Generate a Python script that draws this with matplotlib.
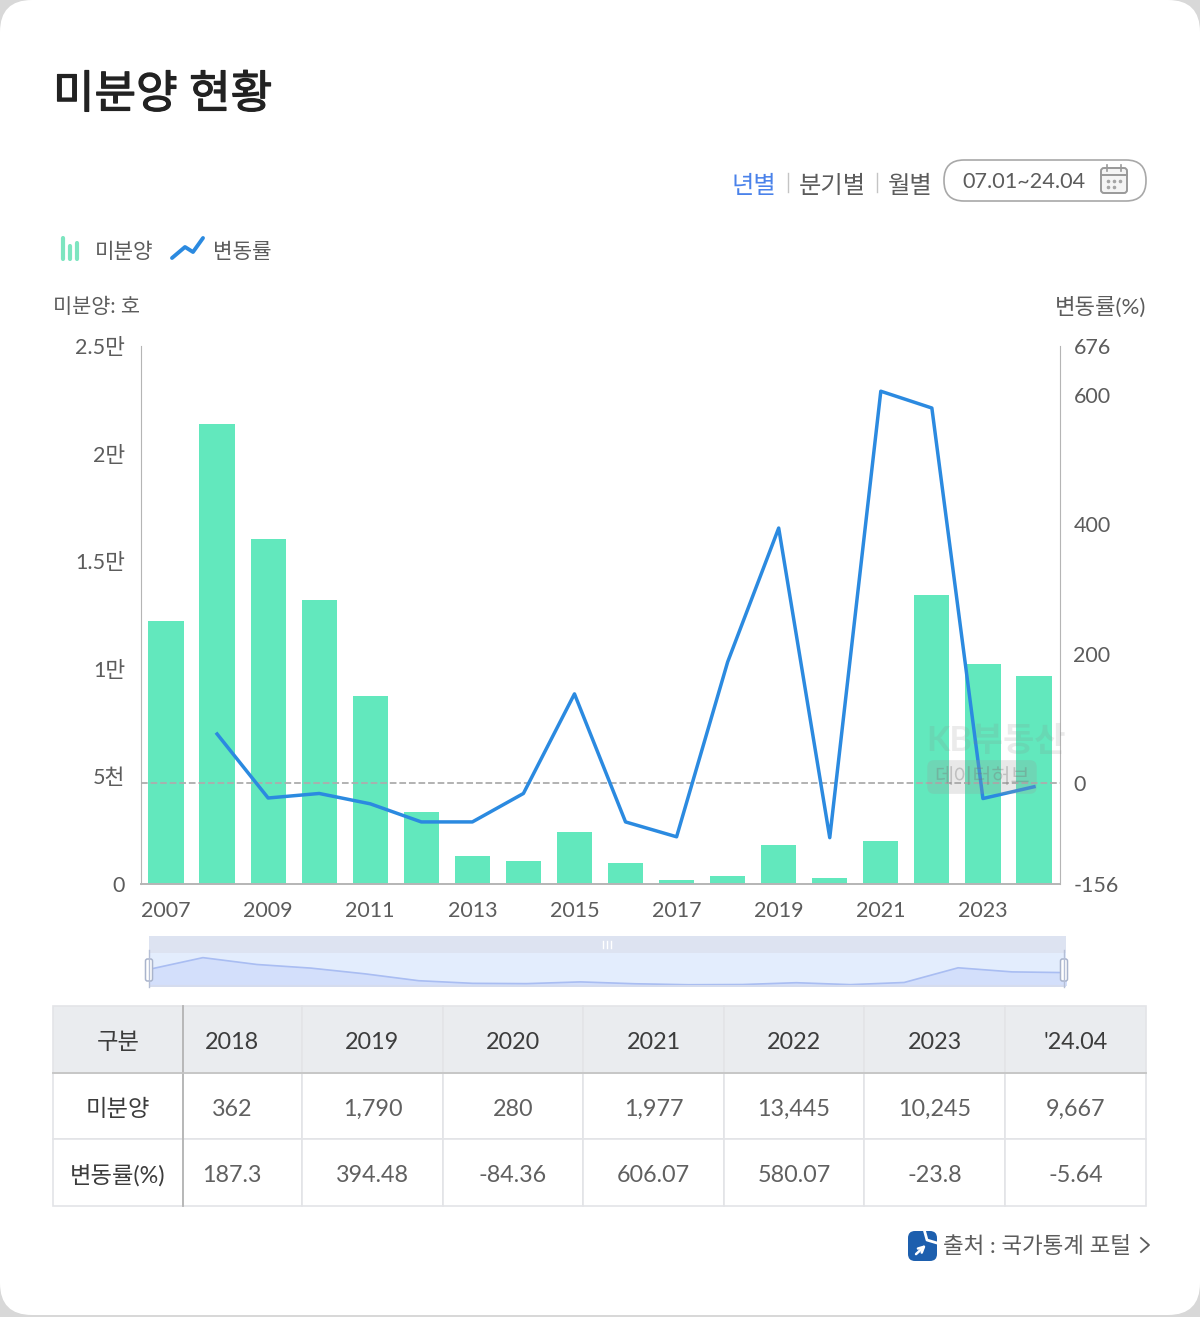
import matplotlib
matplotlib.use('Agg')
import matplotlib.pyplot as plt
import matplotlib.patheffects as pe
from matplotlib.patches import FancyBboxPatch, Rectangle

# 연도 및 지표 데이터
years = ['2007', '2008', '2009', '2010', '2011', '2012', '2013', '2014', '2015',
         '2016', '2017', '2018', '2019', '2020', '2021', '2022', '2023', "'24.04"]
unsold = [12220, 21380, 16030, 13200, 8740, 3350, 1300, 1070, 2420,
          980, 200, 362, 1790, 280, 1977, 13445, 10245, 9667]
rate_years = years[1:]
rate = [76, -23, -16, -32, -60, -60, -16, 138, -60, -83, 187.3, 394.48, -84.36, 606.07, 580.07, -23.8, -5.64]

left_ticks = [0, 5000, 10000, 15000, 20000, 25000]
left_labels = ['0', '5천', '1만', '1.5만', '2만', '2.5만']
right_ticks = [-156, 0, 200, 400, 600, 676]

# 표 데이터
table_cols = ['구분', '2018', '2019', '2020', '2021', '2022', '2023', "'24.04"]
table_unsold = ['미분양', '362', '1,790', '280', '1,977', '13,445', '10,245', '9,667']
table_rate = ['변동률(%)', '187.3', '394.48', '-84.36', '606.07', '580.07', '-23.8', '-5.64']
col_edges = [53, 183, 302, 443, 583, 724, 864, 1005, 1146]
row_edges = [1006, 1073, 1139, 1206]

W, H = 1200, 1317
BAR_COLOR = '#62e8bd'
LINE_COLOR = '#2b8ae0'
TEXT_COLOR = '#5c5c5c'


def px_axes(x0, y0, x1, y1, **kwargs):
    """픽셀 좌표(위에서 아래 방향)로 축 영역을 생성"""
    return plt.axes([x0 / W, 1 - y1 / H, (x1 - x0) / W, (y1 - y0) / H], **kwargs)


class ChartDrawer:
    """카드 배경, 차트, 표를 순서대로 그리는 클래스"""
    @staticmethod
    def draw_card():
        ax = px_axes(0, 0, W, H, zorder=0)
        plt.xlim(0, W)
        plt.ylim(H, 0)
        plt.axis('off')
        ax.add_patch(FancyBboxPatch((0, 0), W, 1315, boxstyle='round,pad=0,rounding_size=32',
                                    fc='white', ec='none'))

        plt.text(53, 95, '미분양 현황', fontsize=32.5, color='#222222', va='center',
                 path_effects=[pe.withStroke(linewidth=0.9, foreground='#222222')])

        # 기간 선택 영역
        plt.text(732, 186, '년별', fontsize=17.5, color='#4a82ea', va='center')
        plt.text(799, 186, '분기별', fontsize=17.5, color=TEXT_COLOR, va='center')
        plt.text(888, 186, '월별', fontsize=17.5, color=TEXT_COLOR, va='center')
        plt.plot([788, 788], [173, 192], color='#c4c4c4', lw=1)
        plt.plot([877, 877], [173, 192], color='#c4c4c4', lw=1)
        ax.add_patch(FancyBboxPatch((944, 160), 202, 41, boxstyle='round,pad=0,rounding_size=20',
                                    fc='white', ec='#a8a8a8', lw=1.2))
        plt.text(962, 182, '07.01~24.04', fontsize=15.6, color=TEXT_COLOR, va='center')

        # 달력 아이콘
        ax.add_patch(FancyBboxPatch((1101, 168), 26, 25, boxstyle='round,pad=0,rounding_size=3',
                                    fc='#f4f4f4', ec='#999999', lw=1.4))
        plt.plot([1101, 1127], [175, 175], color='#999999', lw=1.4)
        plt.plot([1107, 1107], [165, 171], color='#999999', lw=1.2)
        plt.plot([1121, 1121], [165, 171], color='#999999', lw=1.2)
        plt.scatter([1108, 1114, 1120, 1108, 1114], [181, 181, 181, 187, 187], s=2.5, color='#a5a5a5')

        # 범례
        for x, top in [(63, 238), (70, 246), (77, 243)]:
            plt.plot([x, x], [top, 259], color='#7de5c0', lw=3, solid_capstyle='round')
        plt.text(95, 252, '미분양', fontsize=15.3, color=TEXT_COLOR, va='center')
        plt.plot([172, 185, 193, 203], [258, 247, 252, 238], color=LINE_COLOR, lw=2.8, solid_capstyle='round')
        plt.text(213, 252, '변동률', fontsize=15.3, color=TEXT_COLOR, va='center')

        plt.text(53, 307, '미분양: 호', fontsize=15, color=TEXT_COLOR, va='center')
        plt.text(1146, 307, '변동률(%)', fontsize=16, color=TEXT_COLOR, va='center', ha='right')

        # 출처
        ax.add_patch(FancyBboxPatch((908, 1231), 29, 30, boxstyle='round,pad=0,rounding_size=7',
                                    fc='#1d5fae', ec='none'))
        plt.plot([924, 927, 937], [1229, 1240, 1243], color='white', lw=2)
        plt.annotate('', xy=(928, 1243), xytext=(914, 1256),
                     arrowprops=dict(arrowstyle='->', color='white', lw=1.8))
        plt.text(943, 1247, '출처 : 국가통계 포털', fontsize=16.2, color=TEXT_COLOR, va='center')
        plt.plot([1141, 1149, 1141], [1238, 1245, 1252], color=TEXT_COLOR, lw=1.3)

    @staticmethod
    def draw_chart():
        """막대(미분양)와 꺾은선(변동률)의 이중 축 차트"""
        ax = px_axes(140.5, 346, 1059.5, 884, zorder=2)
        ax.patch.set_alpha(0)
        plt.bar(years, unsold, width=0.69, color=BAR_COLOR, zorder=2)
        plt.xlim(-0.5, len(years) - 0.5)
        plt.ylim(0, 25000)
        plt.xticks(range(0, len(years) - 1, 2), years[0:-1:2], fontsize=15.5, color=TEXT_COLOR)
        plt.yticks(left_ticks, left_labels, fontsize=15.5, color=TEXT_COLOR)
        plt.tick_params(length=0)
        plt.tick_params(axis='x', pad=12)
        plt.tick_params(axis='y', pad=11)
        ax.spines['top'].set_visible(False)
        ax.spines['right'].set_visible(False)
        ax.spines['left'].set_color('#b5b5b5')
        ax.spines['bottom'].set_color('#b5b5b5')
        ax.spines['bottom'].set_linewidth(1.4)

        ax2 = plt.twinx(ax)
        plt.plot(rate_years, rate, color=LINE_COLOR, lw=2.5, zorder=4)
        plt.axhline(y=0, color='#adadad', linestyle='--', lw=1.3, zorder=3)
        plt.ylim(-156, 676)
        plt.yticks(right_ticks, [str(t) for t in right_ticks], fontsize=15.5, color=TEXT_COLOR)
        plt.tick_params(length=0, pad=10)
        ax2.spines['top'].set_visible(False)
        ax2.spines['left'].set_visible(False)
        ax2.spines['bottom'].set_visible(False)
        ax2.spines['right'].set_color('#b5b5b5')

        # 워터마크
        plt.figtext(926 / W, 1 - 741 / H, 'KB부동산', fontsize=24.5, color='#888888', alpha=0.16,
                    va='center', weight='bold', zorder=10)
        plt.figtext(982 / W, 1 - 777 / H, '데이터허브', fontsize=15, color='#777777', alpha=0.35,
                    va='center', ha='center', zorder=10,
                    bbox=dict(boxstyle='round,pad=0.33', fc='#999999', ec='none', alpha=0.22))

    @staticmethod
    def draw_navigator():
        """하단 범위 선택 미니맵"""
        ax = px_axes(149, 936, 1066, 987, zorder=1)
        plt.xlim(0, 917)
        plt.ylim(51, 0)
        plt.axis('off')
        ax.add_patch(Rectangle((0, 0), 917, 17, fc='#dde3f1', ec='none'))
        ax.add_patch(Rectangle((0, 17), 917, 34, fc='#e3edfd', ec='none'))
        for x in (454, 458, 462):
            plt.plot([x, x], [5, 12], color='white', lw=1)

        mini = px_axes(149, 953, 1066, 985, zorder=1.2)
        mini.patch.set_alpha(0)
        plt.fill_between(range(len(years)), unsold, color='#d3dffb')
        plt.plot(range(len(years)), unsold, color='#a9bdf2', lw=1.2)
        plt.xlim(0, len(years) - 1)
        plt.ylim(0, 25000)
        plt.axis('off')

        # 손잡이
        grip = px_axes(149, 936, 1066, 987, zorder=1.4)
        grip.patch.set_alpha(0)
        plt.xlim(0, 917)
        plt.ylim(51, 0)
        plt.axis('off')
        plt.plot([0, 917], [50, 50], color='#d5dcee', lw=1.5)
        for x in (0, 915):
            plt.plot([x, x], [14, 51], color='#b5bfd6', lw=1, clip_on=False)
            grip.add_patch(FancyBboxPatch((x - 3.5, 23), 7, 22, boxstyle='round,pad=0,rounding_size=2',
                                          fc='white', ec='#a9b4cc', lw=1.1, clip_on=False))

    @staticmethod
    def draw_table():
        ax = px_axes(0, 0, W, H, zorder=1)
        ax.patch.set_alpha(0)
        plt.xlim(0, W)
        plt.ylim(H, 0)
        plt.axis('off')
        widths = [(b - a) / W for a, b in zip(col_edges[:-1], col_edges[1:])]
        n = len(table_cols)
        colours = [['#eaecef'] * n, ['white'] * n, ['white'] * n]
        tb = plt.table(cellColours=colours, colWidths=widths,
                       bbox=[53 / W, 1 - 1206 / H, 1093 / W, 200 / H])
        for cell in tb.get_celld().values():
            cell.set_edgecolor('#e3e4e7')
            cell.set_linewidth(1.2)
        plt.plot([183, 183], [row_edges[0], row_edges[-1]], color='#b4b4b4', lw=1.3, zorder=5)
        plt.plot([col_edges[0], col_edges[-1]], [row_edges[1], row_edges[1]], color='#c4c4c4', lw=1.3, zorder=5)

        # 셀 텍스트 (2018 열만 왼쪽으로 치우쳐 있음)
        centers = [(a + b) / 2 for a, b in zip(col_edges[:-1], col_edges[1:])]
        centers[1] = 232
        rows = [table_cols, table_unsold, table_rate]
        for r, row in enumerate(rows):
            y = (row_edges[r] + row_edges[r + 1]) / 2 + 3
            for x, label in zip(centers, row):
                color = '#3c3c3c' if r == 0 or x == centers[0] else '#606060'
                plt.text(x, y, label, fontsize=16.8, color=color, ha='center', va='center', zorder=6)


def main():
    # 1. 폰트 설정 (라틴 문자는 Lato, 한글은 Noto Sans CJK KR)
    plt.rcParams['font.family'] = ['Lato', 'Noto Sans CJK KR', 'DejaVu Sans']
    plt.rcParams['axes.unicode_minus'] = False

    # 2. 그리기
    plt.figure(figsize=(12, 13.17), dpi=100, facecolor='#d8d8d8')
    ChartDrawer.draw_card()
    ChartDrawer.draw_chart()
    ChartDrawer.draw_navigator()
    ChartDrawer.draw_table()

    # 3. 출력
    plt.savefig('out.png', dpi=100)


if __name__ == "__main__":
    main()
